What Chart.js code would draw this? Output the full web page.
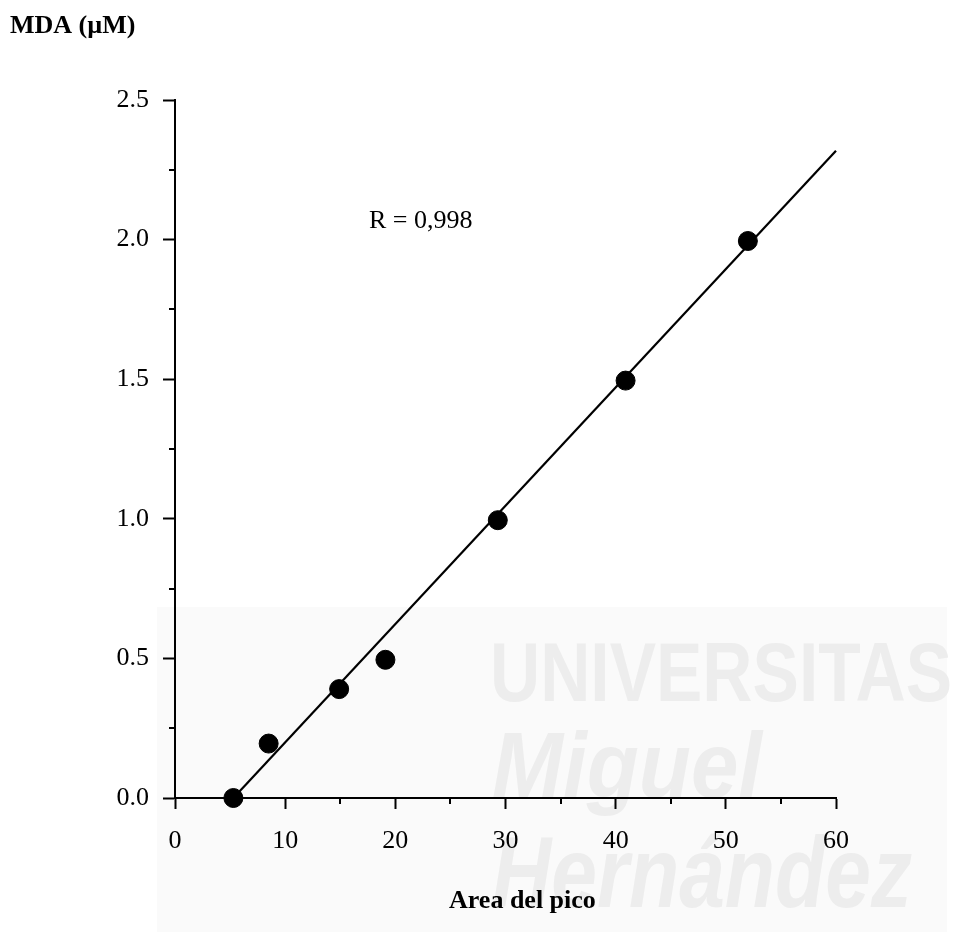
<!DOCTYPE html>
<html>
<head>
<meta charset="utf-8">
<script src="https://cdn.jsdelivr.net/npm/chart.js@4/dist/chart.umd.min.js"></script>
<style>
  body { margin: 0; background: #fff; }
  canvas { display: block; }
</style>
</head>
<body>
<canvas id="curvaMDA" width="955" height="936"></canvas>
<script>
"use strict";

// puntos de la curva de calibrado (area del pico, MDA uM)
var areaPico = [5.3, 8.5, 14.9, 19.1, 29.3, 40.9, 52.0];
var mdaConc = [0.0, 0.195, 0.39, 0.495, 0.995, 1.495, 1.995];

// recta de ajuste (extremos)
var rectaX = [5.3, 60];
var rectaY = [0.0, 2.318];

var ticksX = [0, 10, 20, 30, 40, 50, 60];
var ticksY = [0.0, 0.5, 1.0, 1.5, 2.0, 2.5];
var minorX = [5, 15, 25, 35, 45, 55];
var minorY = [0.25, 0.75, 1.25, 1.75, 2.25];

var fuente = "'Liberation Serif', 'Times New Roman', serif";

var puntos = areaPico.map(function (v, i) { return { x: v, y: mdaConc[i] }; });
var recta = rectaX.map(function (v, i) { return { x: v, y: rectaY[i] }; });

// marca de agua de fondo
var fondoPlugin = {
  id: 'fondo',
  beforeDraw: function (chart) {
    var ctx = chart.ctx;
    ctx.save();
    ctx.fillStyle = '#fafafa';
    ctx.fillRect(157, 607, 790, 325);
    ctx.fillStyle = '#ededed';
    ctx.textBaseline = 'alphabetic';
    ctx.font = "bold 84px 'Liberation Sans', sans-serif";
    ctx.fillText('UNIVERSITAS', 490, 701, 462);
    ctx.font = "italic bold 92px 'Liberation Sans', sans-serif";
    ctx.fillText('Miguel', 492, 797, 270);
    ctx.font = "italic bold 100px 'Liberation Sans', sans-serif";
    ctx.fillText('Hernández', 492, 907, 420);
    ctx.restore();
  }
};

// textos, subdivisiones de los ejes
var textosPlugin = {
  id: 'textos',
  afterDraw: function (chart) {
    var ctx = chart.ctx;
    var sx = chart.scales.x;
    var sy = chart.scales.y;
    ctx.save();
    ctx.strokeStyle = '#000';
    ctx.lineWidth = 2;
    minorX.forEach(function (v) {
      var px = Math.round(sx.getPixelForValue(v));
      ctx.beginPath();
      ctx.moveTo(px, sy.bottom);
      ctx.lineTo(px, sy.bottom + 6);
      ctx.stroke();
    });
    minorY.forEach(function (v) {
      var py = Math.round(sy.getPixelForValue(v));
      ctx.beginPath();
      ctx.moveTo(sx.left - 6, py);
      ctx.lineTo(sx.left, py);
      ctx.stroke();
    });

    ctx.fillStyle = '#000';
    ctx.textBaseline = 'alphabetic';
    ctx.textAlign = 'left';
    ctx.font = "bold 26px " + fuente;
    ctx.fillText('MDA (µM)', 10, 33);
    ctx.fillText('Area del pico', 449, 908);
    ctx.font = "26px " + fuente;
    ctx.fillText('R = 0,998', 369, 228);
    ctx.restore();
  }
};

var ctx = document.getElementById('curvaMDA').getContext('2d');
var chart = new Chart(ctx, {
  type: 'scatter',
  data: {
    datasets: [
      {
        label: 'Recta',
        data: recta,
        showLine: true,
        borderColor: '#000',
        borderWidth: 2.2,
        pointRadius: 0,
        clip: false
      },
      {
        label: 'MDA',
        data: puntos,
        backgroundColor: '#000',
        borderColor: '#000',
        pointRadius: 9.5,
        pointHoverRadius: 9.5,
        clip: false
      }
    ]
  },
  options: {
    responsive: false,
    animation: false,
    layout: { padding: { top: 100, right: 119, left: 0, bottom: 0 } },
    plugins: {
      legend: { display: false },
      tooltip: { enabled: false }
    },
    scales: {
      x: {
        type: 'linear',
        min: 0,
        max: 60,
        afterFit: function (scale) { scale.height = 138; },
        afterBuildTicks: function (scale) {
          scale.ticks = ticksX.map(function (v) { return { value: v }; });
        },
        ticks: {
          color: '#000',
          padding: 17,
          maxRotation: 0,
          font: { family: fuente, size: 26 }
        },
        grid: {
          drawOnChartArea: false,
          tickLength: 11,
          tickColor: '#000',
          tickWidth: 2
        },
        border: { color: '#000', width: 2 }
      },
      y: {
        type: 'linear',
        min: 0,
        max: 2.5,
        afterFit: function (scale) { scale.width = 175; },
        afterBuildTicks: function (scale) {
          scale.ticks = ticksY.map(function (v) { return { value: v }; });
        },
        ticks: {
          color: '#000',
          padding: 14,
          font: { family: fuente, size: 26 },
          callback: function (v) { return Number(v).toFixed(1); }
        },
        grid: {
          drawOnChartArea: false,
          tickLength: 12,
          tickColor: '#000',
          tickWidth: 2
        },
        border: { color: '#000', width: 2 }
      }
    }
  },
  plugins: [fondoPlugin, textosPlugin]
});
</script>
</body>
</html>
